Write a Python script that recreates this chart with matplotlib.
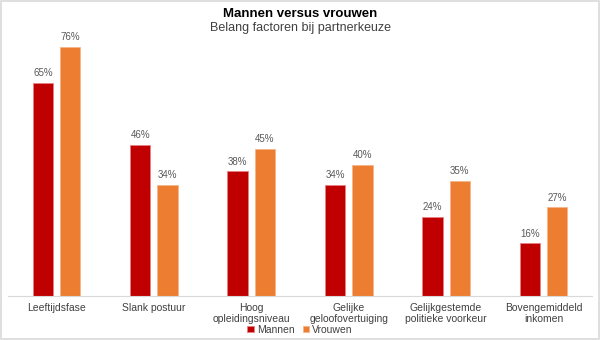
import numpy as np
import matplotlib
matplotlib.use("Agg")
import matplotlib.pyplot as plt
from matplotlib.patches import Rectangle

plt.rcParams['font.family'] = ['Liberation Sans', 'DejaVu Sans']

categories = ["Leeftijdsfase", "Slank postuur", "Hoog\nopleidingsniveau",
              "Gelijke\ngeloofovertuiging", "Gelijkgestemde\npolitieke voorkeur",
              "Bovengemiddeld\ninkomen"]
mannen = [65, 46, 38, 34, 24, 16]
vrouwen = [76, 34, 45, 40, 35, 27]

c_man = '#C00000'
c_vrouw = '#ED7D31'

fig = plt.figure(figsize=(6, 3.4), dpi=100)
ax = fig.add_axes([0.013, 0.13, 0.974, 0.77])

x = np.arange(len(categories))
w = 0.21
off = 0.14
b1 = ax.bar(x - off, mannen, w, color=c_man, edgecolor='#E88080', linewidth=0.6, label='Mannen')
b2 = ax.bar(x + off, vrouwen, w, color=c_vrouw, edgecolor='#F5B58A', linewidth=0.6, label='Vrouwen')

for bars, vals in ((b1, mannen), (b2, vrouwen)):
    for r, v in zip(bars, vals):
        ax.annotate(f"{v}%", (r.get_x() + r.get_width() / 2, v), xytext=(0, 3.5),
                    textcoords='offset points', ha='center', va='bottom',
                    fontsize=7, color='#595959')

ax.set_xlim(-0.5, len(categories) - 0.5)
ax.set_ylim(0, 80)
ax.set_yticks([])
ax.set_xticks(x)
ax.set_xticklabels(categories, fontsize=7.5, color='#404040', linespacing=1.1)
ax.tick_params(axis='x', length=0, pad=5)
for s in ['top', 'right', 'left']:
    ax.spines[s].set_visible(False)
ax.spines['bottom'].set_color('#D9D9D9')

fig.text(0.5, 0.958, "Mannen versus vrouwen", ha='center', va='center',
         fontsize=9.5, fontweight='bold', color='black')
fig.text(0.5, 0.918, "Belang factoren bij partnerkeuze", ha='center', va='center',
         fontsize=9, color='#404040')

fig.legend(loc='center', bbox_to_anchor=(0.5, 0.03), ncol=2, frameon=False,
           fontsize=7.5, handlelength=0.6, handleheight=0.6, handletextpad=0.3,
           columnspacing=0.8, labelcolor='#404040', borderpad=0)

fig.patches.append(Rectangle((0.002, 0.003), 0.996, 0.994, transform=fig.transFigure,
                             fill=False, edgecolor='#D9D9D9', linewidth=1.2))

fig.savefig('out.png', dpi=100)
